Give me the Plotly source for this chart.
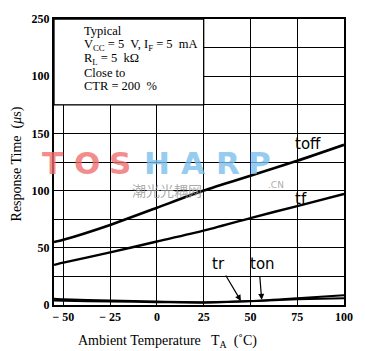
import plotly.graph_objects as go

# ---- data ----
temps = [-55, -50, -25, 0, 25, 50, 75, 100]
t_off = [55, 57, 70, 85, 100, 113, 126, 140]
t_f = [35, 37, 46, 55.5, 65, 76, 86.5, 97]
t_r = [5.5, 5, 4, 3, 2.5, 3.5, 6, 8.5]
t_on = [4, 3.8, 3, 2.5, 2, 3.2, 5, 6]
x_ticks = [-50, -25, 0, 25, 50, 75, 100]
x_ticktext = ["\u2212 50", "\u2212 25", "0", "25", "50", "75", "100"]
y_ticks = [0, 25, 50, 75, 100, 125, 150, 175, 200, 225, 250]
y_ticktext = ["0", "", "50", "", "100", "", "150", "", "100", "", "250"]

SERIF = "Liberation Serif"
SANS = "DejaVu Sans"

fig = go.Figure()
for ys, w in [(t_off, 2.6), (t_f, 2.4), (t_r, 2.0), (t_on, 2.0)]:
    fig.add_trace(go.Scatter(x=temps, y=ys, mode="lines",
                             line=dict(color="black", width=w, shape="spline", smoothing=0.6),
                             showlegend=False, hoverinfo="skip"))

L, R, T, B = 54, 13, 12, 46
W, H = 365, 351
pw, ph = W - L - R, H - T - B

def px2paper(px, py):
    return (px - L) / pw, (H - B - py) / ph

tickfont = dict(family=SERIF, size=12, color="black", weight="bold")
fig.update_layout(
    width=W, height=H,
    margin=dict(l=L, r=R, t=T, b=B),
    paper_bgcolor="white", plot_bgcolor="white",
    xaxis=dict(range=[-55, 100], tickvals=x_ticks, ticktext=x_ticktext,
               showgrid=True, gridcolor="black", gridwidth=1.3,
               showline=True, linecolor="black", linewidth=2, mirror=True,
               ticks="", zeroline=False, tickfont=tickfont),
    yaxis=dict(range=[0, 250], tickvals=y_ticks, ticktext=y_ticktext,
               showgrid=True, gridcolor="black", gridwidth=1.3,
               showline=True, linecolor="black", linewidth=2, mirror=True,
               ticks="", zeroline=False, tickfont=tickfont),
)

# white condition box in top-left
fig.add_shape(type="rect", xref="x", yref="y", x0=-55, x1=25, y0=175, y1=250,
              fillcolor="white", line=dict(color="black", width=1.3), layer="above")

ann = []
# condition text
cond_lines = ["Typical",
              "V<sub>CC</sub> = 5  V, I<sub>F</sub> = 5  mA",
              "R<sub>L</sub> = 5  k\u03a9",
              "Close to",
              "CTR = 200  %"]
cond_y = [24, 38.2, 52.6, 67.5, 81]
for t, py in zip(cond_lines, cond_y):
    x, y = px2paper(83, py)
    ann.append(dict(text=t, xref="paper", yref="paper", x=x, y=y, xanchor="left",
                    yanchor="middle", showarrow=False,
                    font=dict(family=SERIF, size=12.5, color="black")))

# axis titles
x, y = px2paper(171, 342)
ann.append(dict(text="Ambient Temperature   T<sub>A</sub>  (\u02daC)", xref="paper", yref="paper",
                x=x, y=y, showarrow=False, xanchor="center", yanchor="middle",
                font=dict(family=SERIF, size=14, color="black")))
x, y = px2paper(16, 161)
ann.append(dict(text="Response Time  (<i>\u03bc</i>s)", xref="paper", yref="paper",
                x=x, y=y, showarrow=False, textangle=-90, xanchor="center", yanchor="middle",
                font=dict(family=SERIF, size=14, color="black")))

# curve labels
for t, cx, cy in [("toff", 80.7, 141), ("tf", 77, 92.5), ("tr", 33, 36), ("ton", 56.3, 36)]:
    ann.append(dict(text=t, x=cx, y=cy, xref="x", yref="y", showarrow=False,
                    font=dict(family=SANS, size=15, color="black")))
# arrows
ann.append(dict(text="", x=44.9, y=3.5, xref="x", yref="y", showarrow=True,
                ax=-16, ay=-27, arrowhead=2, arrowsize=1, arrowwidth=1.2, arrowcolor="black"))
ann.append(dict(text="", x=56, y=4.5, xref="x", yref="y", showarrow=True,
                ax=-2, ay=-25, arrowhead=2, arrowsize=1, arrowwidth=1.2, arrowcolor="black"))

# watermark
letters = ["T", "O", "S", "H", "A", "R", "P"]
centers = [52, 88, 122, 160, 197, 233, 265]
for ch, cx in zip(letters, centers):
    col = "rgba(240,110,110,0.8)" if ch in "TOS" else "rgba(120,190,235,0.8)"
    x, y = px2paper(cx, 160)
    ann.append(dict(text=ch, xref="paper", yref="paper", x=x, y=y, showarrow=False,
                    xanchor="center", yanchor="middle",
                    font=dict(family=SANS, size=31, color=col, weight="bold")))
x, y = px2paper(170, 187)
ann.append(dict(text="\u6f6e\u5149\u5149\u8026\u7f51", xref="paper", yref="paper", x=x, y=y,
                showarrow=False, xanchor="center", yanchor="middle",
                font=dict(family="Noto Sans CJK SC", size=14, color="rgba(150,150,150,0.8)")))
x, y = px2paper(282, 182)
ann.append(dict(text=".CN", xref="paper", yref="paper", x=x, y=y,
                showarrow=False, xanchor="center", yanchor="middle",
                font=dict(family=SANS, size=9, color="rgba(150,150,150,0.8)")))

fig.update_layout(annotations=ann)
fig.write_html("out.html")
